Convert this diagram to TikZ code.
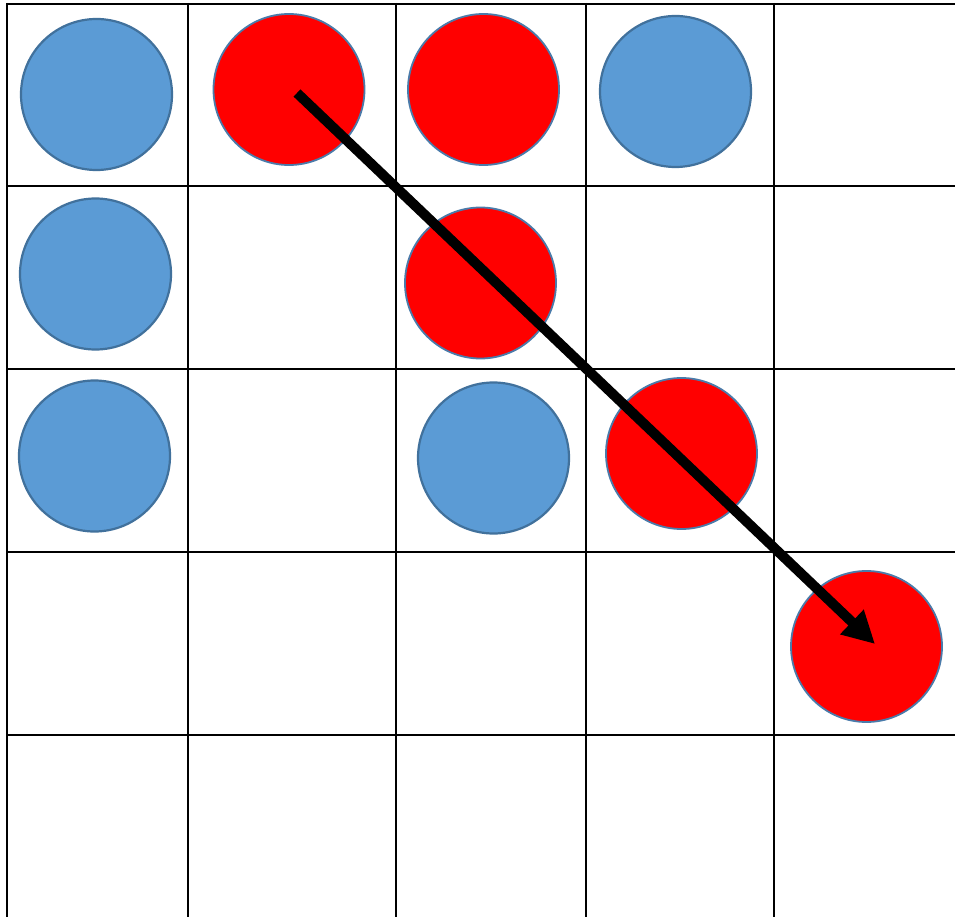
\documentclass[tikz,border=0pt]{standalone}
\usetikzlibrary{arrows.meta}
\definecolor{bluefill}{HTML}{5B9BD5}
\definecolor{blueedge}{HTML}{41719C}
\definecolor{rededge}{HTML}{4A7BAA}
\tikzset{
  gridline/.style={line width=2pt, black},
  bluedot/.style={circle, draw=blueedge, fill=bluefill, line width=2.2pt, minimum size=151pt, inner sep=0pt},
  reddot/.style={circle, draw=rededge, fill=red, line width=1.8pt, minimum size=151pt, inner sep=0pt},
  movearrow/.style={line width=10pt, black, -{Triangle[length=32pt, width=32pt]}}
}
\begin{document}
\begin{tikzpicture}[x=1pt,y=-1pt]
\useasboundingbox (0,0) rectangle (955,917);
\fill[white] (0,0) rectangle (955,917);
% grid
\foreach \yy in {4,186,369,552,735} \draw[gridline] (6,\yy) -- (955,\yy);
\foreach \xx in {7,188,396,586,774} \draw[gridline] (\xx,3) -- (\xx,917);
% blue circles
\node[bluedot] (b1) at (96.5,94.5) {};
\node[bluedot] (b2) at (95.5,274) {};
\node[bluedot] (b3) at (94.5,456) {};
\node[bluedot] (b4) at (675.5,91.5) {};
\node[bluedot] (b5) at (493.5,458) {};
% red circles
\node[reddot] (r1) at (289,89.5) {};
\node[reddot] (r2) at (483.5,89.5) {};
\node[reddot] (r3) at (480.5,283) {};
\node[reddot] (r4) at (681.5,453.5) {};
\node[reddot] (r5) at (866.5,646.5) {};
% arrow
\coordinate (s) at (297,93);
\coordinate (e) at (875,644);
\draw[movearrow] (s) -- (e);
\end{tikzpicture}
\end{document}
